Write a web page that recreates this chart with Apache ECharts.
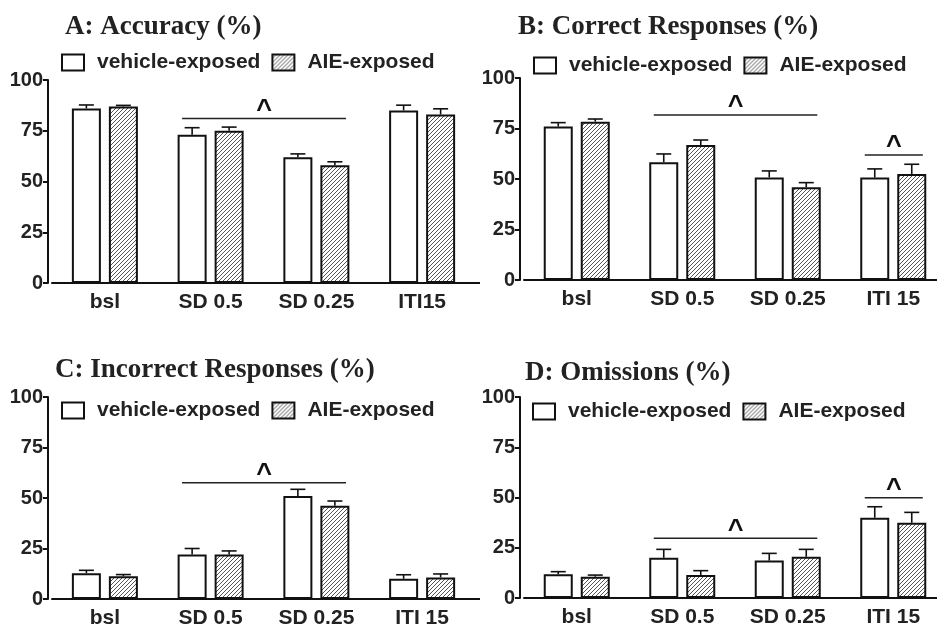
<!DOCTYPE html>
<html><head><meta charset="utf-8">
<script src="https://cdn.jsdelivr.net/npm/echarts@6/dist/echarts.min.js"></script>
<style>html,body{margin:0;padding:0;background:#fff}#c{width:937px;height:627px}</style>
</head><body><div id="c"></div>
<script>
// ---- data ----
const categoriesA = ['bsl', 'SD 0.5', 'SD 0.25', 'ITI15'];
const categoriesBCD = ['bsl', 'SD 0.5', 'SD 0.25', 'ITI 15'];
const seriesNames = ['vehicle-exposed', 'AIE-exposed'];
const panelTitles = ['A: Accuracy (%)', 'B: Correct Responses (%)', 'C: Incorrect Responses (%)', 'D: Omissions (%)'];
const yMin = 0, yMax = 100, yStep = 25;

const accuracyVehicle = [86, 73, 62, 85];
const accuracyVehicleSem = [1.7, 3.5, 1.6, 2.6];
const accuracyAIE = [87, 75, 58, 83];
const accuracyAIESem = [0.5, 1.8, 1.7, 2.8];

const correctVehicle = [76, 58.3, 50.8, 50.7];
const correctVehicleSem = [1.9, 4.1, 3.2, 4.3];
const correctAIE = [78.4, 66.8, 45.9, 52.5];
const correctAIESem = [1.3, 2.5, 2.3, 4.8];

const incorrectVehicle = [12.8, 22, 51, 10];
const incorrectVehicleSem = [1.4, 3.0, 3.3, 2.0];
const incorrectAIE = [11.3, 22, 46.2, 10.7];
const incorrectAIESem = [0.8, 1.8, 2.3, 1.7];

const omissionsVehicle = [11.8, 20, 18.6, 39.9];
const omissionsVehicleSem = [1.3, 4.2, 3.6, 5.5];
const omissionsAIE = [10.6, 11.4, 20.5, 37.4];
const omissionsAIESem = [0.8, 2.2, 3.7, 5.2];

// significance brackets: [fromCategoryIndex, toCategoryIndex, yValue]
const sigA = [[1, 2, 81]];
const sigB = [[1, 2, 81.7], [3, 3, 61.9]];
const sigC = [[1, 2, 57.6]];
const sigD = [[1, 2, 29.7], [3, 3, 49.9]];

// ---- layout / styles ----
const SANS = '"Liberation Sans", Arial, sans-serif';
const SERIF = '"Liberation Serif", "Times New Roman", serif';
const INK = '#111';
const TXT = '#222';
const grids = [
  {left: 52, top: 80, width: 423, height: 203},
  {left: 524, top: 78, width: 422, height: 202},
  {left: 52, top: 397, width: 423, height: 202},
  {left: 524, top: 397, width: 422, height: 201}
];
const titlePos = [{left: 65, top: 14}, {left: 518, top: 14}, {left: 55, top: 357}, {left: 525, top: 360}];
const legendPos = [{left: 61, top: 52}, {left: 533, top: 55}, {left: 61, top: 400}, {left: 532, top: 401}];
const BAR_W = 29, BAR_OFF = 18.5;

function hatch() {
  const c = document.createElement('canvas');
  c.width = c.height = 4;
  const x = c.getContext('2d');
  x.fillStyle = '#fff'; x.fillRect(0, 0, 4, 4);
  x.strokeStyle = '#555'; x.lineWidth = 1;
  x.beginPath();
  x.moveTo(0, 4); x.lineTo(4, 0);
  x.moveTo(-1, 1); x.lineTo(1, -1);
  x.moveTo(3, 5); x.lineTo(5, 3);
  x.stroke();
  return c;
}
const hatchFill = {image: hatch(), repeat: 'repeat'};

const panels = [
  {cats: categoriesA, veh: accuracyVehicle, vehSem: accuracyVehicleSem, aie: accuracyAIE, aieSem: accuracyAIESem, sig: sigA},
  {cats: categoriesBCD, veh: correctVehicle, vehSem: correctVehicleSem, aie: correctAIE, aieSem: correctAIESem, sig: sigB},
  {cats: categoriesBCD, veh: incorrectVehicle, vehSem: incorrectVehicleSem, aie: incorrectAIE, aieSem: incorrectAIESem, sig: sigC},
  {cats: categoriesBCD, veh: omissionsVehicle, vehSem: omissionsVehicleSem, aie: omissionsAIE, aieSem: omissionsAIESem, sig: sigD}
];

function errRender(sign) {
  return function (params, api) {
    const i = api.value(0), m = api.value(1), s = api.value(2);
    const base = api.coord([i, m]);
    const top = api.coord([i, m + s]);
    const x = base[0] + sign * BAR_OFF;
    return {type: 'group', children: [
      {type: 'line', shape: {x1: x, y1: base[1], x2: x, y2: top[1]}, style: {stroke: INK, lineWidth: 1.6}},
      {type: 'line', shape: {x1: x - 7.5, y1: top[1], x2: x + 7.5, y2: top[1]}, style: {stroke: INK, lineWidth: 1.6}}
    ]};
  };
}
function sigRender(params, api) {
  const band = api.size([1, 0])[0];
  const a = api.coord([api.value(0), api.value(2)]);
  const b = api.coord([api.value(1), api.value(2)]);
  const x1 = a[0] - 0.27 * band, x2 = b[0] + 0.28 * band;
  return {type: 'group', children: [
    {type: 'line', shape: {x1: x1, y1: a[1], x2: x2, y2: a[1]}, style: {stroke: TXT, lineWidth: 1.5}},
    {type: 'text', x: (x1 + x2) / 2, y: a[1] - 8, style: {text: '^', font: 'bold 27px ' + SANS, fill: INK, align: 'center', verticalAlign: 'middle'}}
  ]};
}

const option = {
  animation: false,
  backgroundColor: '#fff',
  title: panelTitles.map((t, i) => ({
    text: t, left: titlePos[i].left, top: titlePos[i].top, padding: 0,
    textStyle: {fontFamily: SERIF, fontWeight: 'bold', fontSize: 27, color: TXT}
  })),
  legend: legendPos.map(p => ({
    data: seriesNames.map(n => ({name: n, icon: 'rect'})), left: p.left, top: p.top, padding: 0,
    itemWidth: 22, itemHeight: 16, itemGap: 11, selectedMode: false,
    itemStyle: {borderColor: INK, borderWidth: 2},
    textStyle: {fontFamily: SANS, fontWeight: 'bold', fontSize: 21, color: TXT, padding: [0, 0, 0, 8]}
  })),
  grid: grids.map(g => Object.assign({containLabel: false, outerBoundsMode: 'none'}, g)),
  xAxis: panels.map((p, g) => ({
    gridIndex: g, type: 'category', data: p.cats,
    axisLine: {show: true, lineStyle: {color: INK, width: 2}},
    axisTick: {show: false},
    axisLabel: {interval: 0, fontFamily: SANS, fontWeight: 'bold', fontSize: 21, color: TXT, margin: 9}
  })),
  yAxis: [],
  series: []
};

panels.forEach((p, g) => {
  option.yAxis.push({
    gridIndex: g, type: 'value', min: yMin, max: yMax, interval: yStep, offset: 4,
    axisLine: {show: true, lineStyle: {color: INK, width: 2}},
    axisTick: {show: true, length: 5, lineStyle: {color: INK, width: 2}},
    axisLabel: {fontFamily: SANS, fontWeight: 'bold', fontSize: 20, color: TXT, margin: 5},
    splitLine: {show: false}
  });
  option.yAxis.push({
    gridIndex: g, type: 'value', min: yMin, max: yMax, interval: yMax,
    axisLine: {show: false},
    axisTick: {show: true, customValues: [yMin], length: 5, lineStyle: {color: INK, width: 2}},
    axisLabel: {show: false},
    splitLine: {show: false}
  });
  const yi = g * 2;
  option.series.push({
    type: 'bar', name: seriesNames[0], xAxisIndex: g, yAxisIndex: yi, data: p.veh,
    barWidth: BAR_W, barGap: '27.6%',
    itemStyle: {color: '#fff', borderColor: INK, borderWidth: 2},
    emphasis: {disabled: true}
  });
  option.series.push({
    type: 'bar', name: seriesNames[1], xAxisIndex: g, yAxisIndex: yi, data: p.aie,
    barWidth: BAR_W, barGap: '27.6%',
    itemStyle: {color: hatchFill, borderColor: INK, borderWidth: 2},
    emphasis: {disabled: true}
  });
  option.series.push({
    type: 'custom', xAxisIndex: g, yAxisIndex: yi, renderItem: errRender(-1),
    encode: {x: 0, y: 1}, z: 3, silent: true,
    data: p.veh.map((v, i) => [i, v, p.vehSem[i]])
  });
  option.series.push({
    type: 'custom', xAxisIndex: g, yAxisIndex: yi, renderItem: errRender(1),
    encode: {x: 0, y: 1}, z: 3, silent: true,
    data: p.aie.map((v, i) => [i, v, p.aieSem[i]])
  });
  option.series.push({
    type: 'custom', xAxisIndex: g, yAxisIndex: yi, renderItem: sigRender,
    encode: {x: 0, y: 2}, z: 3, silent: true,
    data: p.sig
  });
});

const chart = echarts.init(document.getElementById('c'), null, {renderer: 'canvas'});
chart.setOption(option);
</script>
</body></html>
